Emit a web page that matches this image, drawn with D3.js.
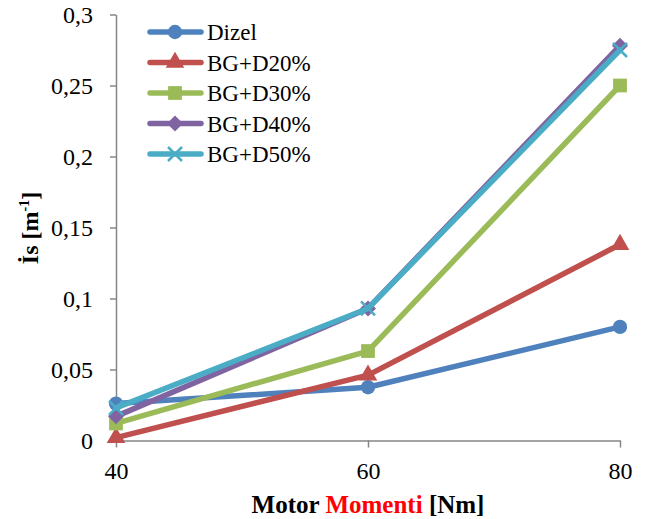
<!DOCTYPE html>
<html>
<head>
<meta charset="utf-8">
<script src="https://cdn.jsdelivr.net/npm/d3@7"></script>
<style>
  body { margin: 0; background: #fff; }
  text { font-family: "Liberation Serif", "DejaVu Serif", serif; }
</style>
</head>
<body>
<div id="chart"></div>
<script>
// Data
const torques = [40, 60, 80];
const seriesNames = ["Dizel", "BG+D20%", "BG+D30%", "BG+D40%", "BG+D50%"];
const dizel = [0.026, 0.0375, 0.080];
const bgd20 = [0.002, 0.046, 0.138];
const bgd30 = [0.012, 0.063, 0.250];
const bgd40 = [0.017, 0.093, 0.278];
const bgd50 = [0.023, 0.093, 0.275];
const yTicks = [0, 0.05, 0.1, 0.15, 0.2, 0.25, 0.3];
const colors = ["#4F81BD", "#C0504D", "#9BBB59", "#8064A2", "#4BACC6"];
const markers = ["circle", "triangle", "square", "diamond", "x"];

const seriesValues = [dizel, bgd20, bgd30, bgd40, bgd50];
const series = seriesNames.map((name, i) => ({
    name,
    color: colors[i],
    marker: markers[i],
    values: torques.map((t, j) => ({x: t, y: seriesValues[i][j]}))
}));

const W = 648, H = 519;
const svg = d3.select("#chart").append("svg")
    .attr("width", W)
    .attr("height", H);

svg.append("rect").attr("width", W).attr("height", H).attr("fill", "#fff");

// Scales
const x = d3.scaleLinear().domain([40, 80]).range([116, 620]);
const y = d3.scaleLinear().domain([0, 0.3]).range([440.5, 14.5]);

const axisColor = "#868686";
const fmt = d => String(d).replace(".", ",");

// Y axis
const yAxis = svg.append("g")
    .attr("transform", `translate(${x(40)},0)`)
    .call(d3.axisLeft(y).tickValues(yTicks).tickFormat(fmt).tickSize(6).tickSizeOuter(0).tickPadding(17));
yAxis.select(".domain").attr("stroke", axisColor).attr("stroke-width", 1.5);
yAxis.selectAll(".tick line").attr("stroke", axisColor).attr("stroke-width", 1.5);
yAxis.selectAll(".tick text")
    .attr("font-family", "Liberation Serif")
    .attr("font-size", 24)
    .attr("fill", "#000");

// X axis
const xAxis = svg.append("g")
    .attr("transform", `translate(0,${y(0)})`)
    .call(d3.axisBottom(x).tickValues(torques).tickSize(7).tickSizeOuter(0).tickPadding(14));
xAxis.select(".domain").attr("stroke", axisColor).attr("stroke-width", 1.5);
xAxis.selectAll(".tick line").attr("stroke", axisColor).attr("stroke-width", 1.5);
xAxis.selectAll(".tick text")
    .attr("font-family", "Liberation Serif")
    .attr("font-size", 24)
    .attr("fill", "#000");

// Axis titles
const xTitle = svg.append("text")
    .attr("x", 368)
    .attr("y", 513)
    .attr("text-anchor", "middle")
    .attr("font-size", 25)
    .attr("font-weight", "bold");
xTitle.append("tspan").attr("fill", "#000").text("Motor ");
xTitle.append("tspan").attr("fill", "#ff0000").text("Momenti");
xTitle.append("tspan").attr("fill", "#000").text(" [Nm]");

const yTitle = svg.append("text")
    .attr("transform", "translate(38,228) rotate(-90)")
    .attr("text-anchor", "middle")
    .attr("font-size", 24)
    .attr("font-weight", "bold");
yTitle.append("tspan").text("İs [m");
yTitle.append("tspan").attr("font-size", 14).attr("dy", -9).text("-1");
yTitle.append("tspan").attr("dy", 9).text("]");

// Marker drawing
function drawMarker(g, type, color) {
    if (type === "x") {
        g.append("path")
            .attr("d", "M-7,-7L7,7M-7,7L7,-7")
            .attr("stroke", color)
            .attr("stroke-width", 2.5)
            .attr("fill", "none");
        return;
    }
    if (type === "diamond") {
        g.append("path")
            .attr("d", "M0,-8L8,0L0,8L-8,0Z")
            .attr("fill", color);
        return;
    }
    const sym = {
        circle: d3.symbolCircle,
        triangle: d3.symbolTriangle,
        square: d3.symbolSquare
    }[type];
    const size = {circle: 160, triangle: 150, square: 190}[type];
    g.append("path")
        .attr("d", d3.symbol().type(sym).size(size)())
        .attr("fill", color);
}

const line = d3.line().x(d => x(d.x)).y(d => y(d.y));

// Series lines and markers
series.forEach(s => {
    const g = svg.append("g");
    g.append("path")
        .datum(s.values)
        .attr("fill", "none")
        .attr("stroke", s.color)
        .attr("stroke-width", 5.5)
        .attr("stroke-linejoin", "round")
        .attr("stroke-linecap", "round")
        .attr("d", line);
    s.values.forEach(d => {
        const m = g.append("g").attr("transform", `translate(${x(d.x)},${y(d.y)})`);
        drawMarker(m, s.marker, s.color);
    });
});

// Legend
const legend = svg.append("g");
series.forEach((s, i) => {
    const ly = 32 + i * 30.5;
    const row = legend.append("g").attr("transform", `translate(0,${ly})`);
    row.append("line")
        .attr("x1", 150).attr("x2", 201)
        .attr("stroke", s.color)
        .attr("stroke-width", 5.5)
        .attr("stroke-linecap", "round");
    const m = row.append("g").attr("transform", "translate(175,0)");
    drawMarker(m, s.marker, s.color);
    row.append("text")
        .attr("x", 207)
        .attr("y", 8)
        .attr("font-size", 23)
        .attr("fill", "#000")
        .text(s.name);
});
</script>
</body>
</html>
